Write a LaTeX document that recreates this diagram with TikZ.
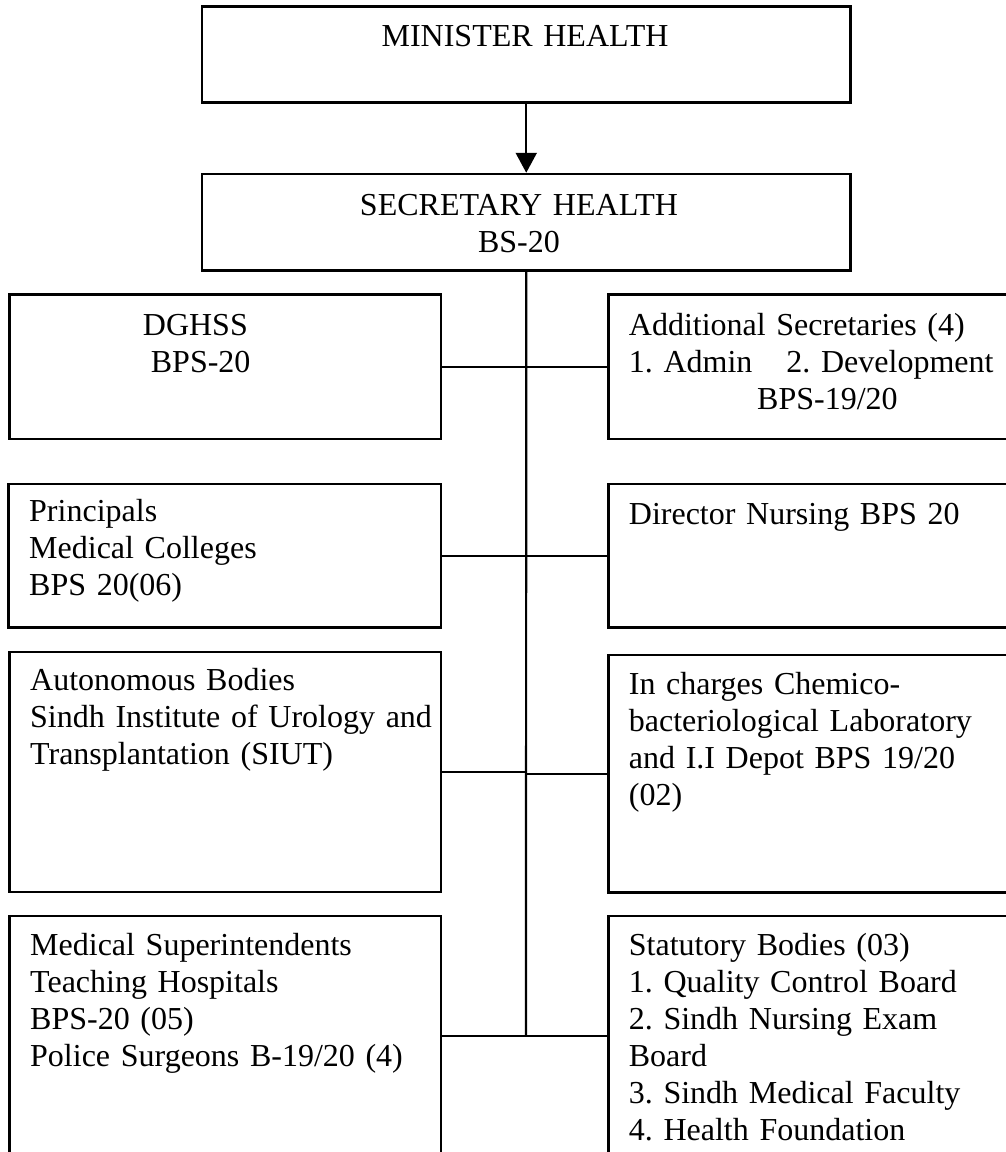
\documentclass[tikz,border=0pt]{standalone}
\usepackage{fontspec}
\setmainfont[WordSpace=0.7]{Liberation Serif}
\usetikzlibrary{arrows.meta,fit}
\tikzset{
  boxst/.style={draw=black, line width=2.5pt, inner sep=0pt, fill=none},
  conn/.style={draw=black, line width=2.2pt},
  txtl/.style={anchor=base west, inner sep=0pt, text width=460pt, align=left,
    font=\fontsize{32}{37}\selectfont\frenchspacing},
  txtc/.style={anchor=base, inner sep=0pt, text width=600pt, align=center,
    font=\fontsize{32}{37}\selectfont\frenchspacing},
}
\begin{document}
\begin{tikzpicture}[x=1pt, y=-1pt]
\useasboundingbox (0,0) rectangle (1006,1152);
\clip (0,0) rectangle (1006,1152);
\fill[white] (0,0) rectangle (1006,1152);
% boxes
\node[boxst, fit={(202,6.5) (850.5,102.7)}] (min) {};
\node[boxst, fit={(202,174) (850.5,270.5)}] (sec) {};
\node[boxst, fit={(9.5,294.3) (441,439)}] (dg) {};
\node[boxst, fit={(608.5,294.3) (1015,439)}] (add) {};
\node[boxst, fit={(8.5,484) (441,627.7)}] (pr) {};
\node[boxst, fit={(608.5,484) (1015,627.7)}] (dn) {};
\node[boxst, fit={(9.5,652) (441,892)}] (aut) {};
\node[boxst, fit={(608.5,655) (1015,892.5)}] (inch) {};
\node[boxst, fit={(9.5,916) (441,1156)}] (med) {};
\node[boxst, fit={(608.5,916) (1015,1156)}] (stat) {};
% texts
\node[txtc] (tmin) at (525,46.7) {MINISTER HEALTH};
\node[txtc] (tsec) at (519,215) {SECRETARY HEALTH\\BS-20};
\node[txtl] (tdg) at (142.7,335) {DGHSS\\\hspace*{8pt}BPS-20};
\node[txtl] (tadd) at (628.7,335) {Additional Secretaries (4)\\1. Admin\hspace{34pt}2. Development\\\hspace*{128.3pt}BPS-19/20};
\node[txtl] (tpr) at (29,521.7) {Principals\\Medical Colleges\\BPS 20(06)};
\node[txtl] (tdn) at (628.7,524) {Director Nursing BPS 20};
\node[txtl] (taut) at (30,690) {Autonomous Bodies\\Sindh Institute of Urology and\\Transplantation (SIUT)};
\node[txtl] (tinch) at (628.7,694) {In charges Chemico-\\bacteriological Laboratory\\and I.I Depot BPS 19/20\\(02)};
\node[txtl] (tmed) at (30,955) {Medical Superintendents\\Teaching Hospitals\\BPS-20 (05)\\Police Surgeons B-19/20 (4)};
\node[txtl] (tstat) at (628.7,955) {Statutory Bodies (03)\\1. Quality Control Board\\2. Sindh Nursing Exam\\Board\\3. Sindh Medical Faculty\\4. Health Foundation};
% connectors
\coordinate (vend) at (526,1036);
\draw[conn, -{Triangle[length=20pt, width=21pt]}] (min.south) -- (sec.north);
\draw[conn] (sec.south) -- (vend);
\draw[conn] (dg.east) -- (add.west);
\draw[conn] (pr.east) -- (dn.west);
\draw[conn] (aut.east) -- (aut.east -| vend);
\draw[conn] (inch.west -| vend) -- (inch.west);
\draw[conn] (med.east |- vend) -- (stat.west |- vend);
\end{tikzpicture}
\end{document}
